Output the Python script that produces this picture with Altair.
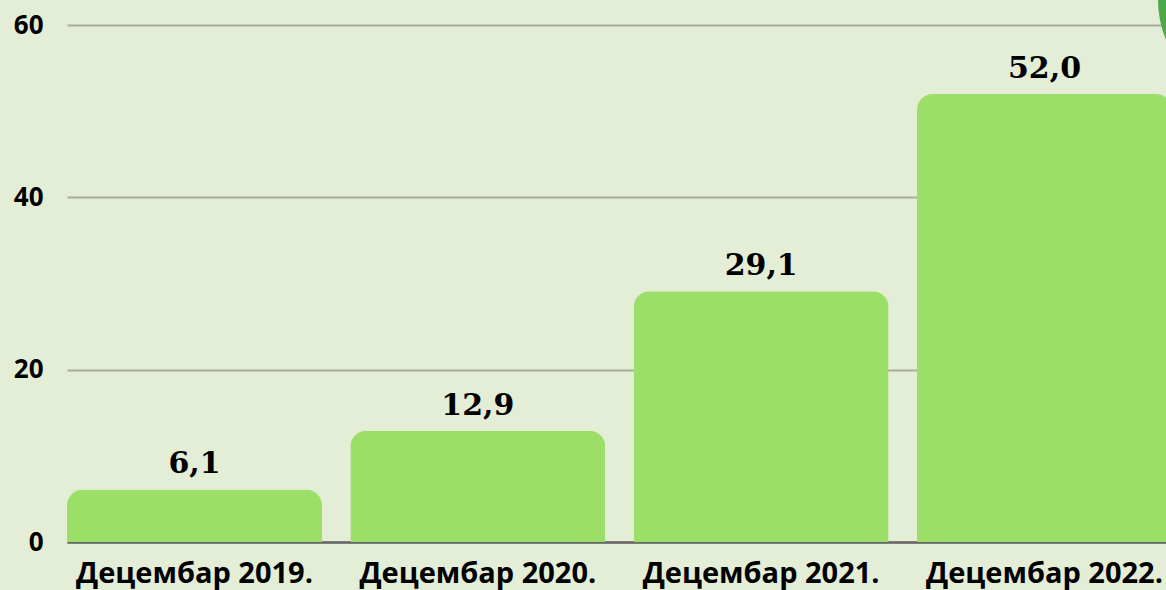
import altair as alt
import pandas as pd

categories = ["Децембар 2019.", "Децембар 2020.", "Децембар 2021.", "Децембар 2022."]
values = [6.1, 12.9, 29.1, 52.0]
value_labels = ["6,1", "12,9", "29,1", "52,0"]

df = pd.DataFrame({"cat": categories, "val": values, "lbl": value_labels})

x = alt.X("cat:N", sort=categories, title=None,
          scale=alt.Scale(paddingInner=0.1, paddingOuter=0, range=[0, 1105]),
          axis=alt.Axis(labelAngle=0, labelFont="Open Sans", labelFontWeight="bold",
                        labelFontSize=29, labelColor="#000000", labelPadding=17,
                        ticks=False, domainColor="#666666", domainWidth=2.5,
                        labelOverlap=False, labelLimit=0))
y = alt.Y("val:Q", title=None, scale=alt.Scale(domain=[0, 60]),
          axis=alt.Axis(values=[0, 20, 40, 60], labelFont="Open Sans", labelFontWeight="bold",
                        labelFontSize=26, labelColor="#000000", labelPadding=24,
                        ticks=False, domain=False, gridColor="#a8ad98", gridWidth=2))

bars = alt.Chart(df).mark_bar(color="#9bdf68", cornerRadiusTopLeft=16,
                              cornerRadiusTopRight=16).encode(x=x, y=y)

text = alt.Chart(df).mark_text(font="DejaVu Serif", fontWeight="bold", fontSize=30,
                               color="#000000", dy=-16, baseline="alphabetic").encode(
    x=alt.X("cat:N", sort=categories), y="val:Q", text="lbl:N")

circle = alt.Chart(df.head(1)).mark_circle(color="#4ea84a", size=43264, opacity=1).encode(
    x=alt.value(1195), y=alt.value(-25))

chart = alt.layer(bars, text, circle).properties(
    width=1099, height=517,
    padding={"left": 67, "top": 25, "right": 0, "bottom": 48},
    autosize=alt.AutoSizeParams(type="none"),
    background="#e4edd6",
).configure_view(stroke=None)

chart.save("out.html", embed_options={"renderer": "svg", "actions": False})
